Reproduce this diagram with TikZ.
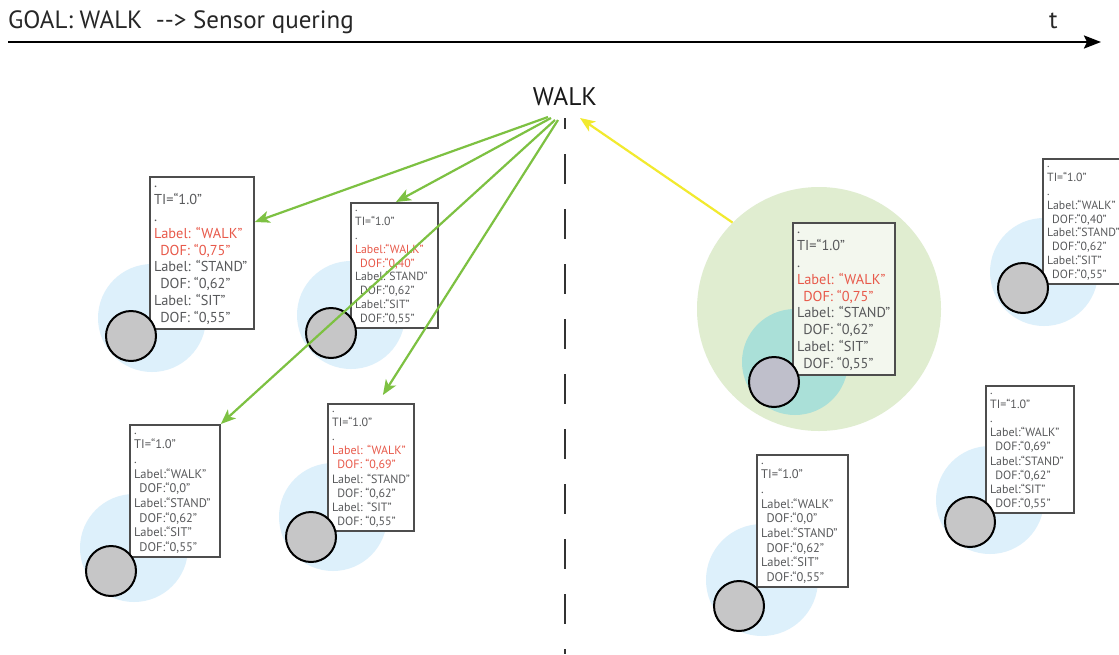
\documentclass[tikz,border=0pt]{standalone}
\usepackage{fontspec}
\setmainfont{PT Sans}
\usetikzlibrary{arrows.meta,calc}
\definecolor{boxline}{HTML}{4D4D4D}
\definecolor{txtgray}{HTML}{58595B}
\definecolor{txtred}{HTML}{E8594A}
\definecolor{lightblue}{HTML}{DDF0FB}
\definecolor{sensorgray}{HTML}{C6C6C7}
\definecolor{focusgray}{HTML}{BFBFCB}
\definecolor{focusgreen}{HTML}{E0EDD0}
\definecolor{focusteal}{HTML}{AAE0D8}
\definecolor{focusbox}{HTML}{F3F7EE}
\definecolor{arrowgreen}{HTML}{7DC142}
\definecolor{arrowyellow}{HTML}{F2EA2E}
\colorlet{boxfill}{white}
\newcommand\sensorbox[9]{%
  \node[boxst, minimum width=#4pt, minimum height=#5pt, anchor=north west] (#1) at (#2,#3) {};
  \pgfmathsetmacro\fs{#6*0.85}%
  \pgfmathsetmacro\bo{#6*0.68}%
  \pgfmathsetmacro\ind{#6*0.36}%
  \begin{scope}[every node/.append style={font=\fontsize{\fs pt}{\fs pt}\selectfont}]
  \node[txt] (#1-0) at ({#2+5},{#3+\bo}) {.};
  \node[txt] (#1-1) at ({#2+5},{#3+\bo+#6}) {TI=“1.0”};
  \node[txt] (#1-2) at ({#2+5},{#3+\bo+2*#6}) {.};
  \node[txt, text=#7] (#1-3) at ({#2+5},{#3+\bo+3*#6}) {Label:#9“WALK”};
  \node[txt, text=#7] (#1-4) at ({#2+5+\ind},{#3+\bo+4*#6}) {DOF:#9“#8”};
  \node[txt] (#1-5) at ({#2+5},{#3+\bo+5*#6}) {Label:#9“STAND”};
  \node[txt] (#1-6) at ({#2+5+\ind},{#3+\bo+6*#6}) {DOF:#9“0,62”};
  \node[txt] (#1-7) at ({#2+5},{#3+\bo+7*#6}) {Label:#9“SIT”};
  \node[txt] (#1-8) at ({#2+5+\ind},{#3+\bo+8*#6}) {DOF:#9“0,55”};
  \end{scope}}
\begin{document}
\begin{tikzpicture}[x=1pt,y=-1pt,
  boxst/.style={rectangle, draw=boxline, line width=1.8pt, fill=boxfill, inner sep=0pt},
  txt/.style={anchor=base west, inner sep=0pt, text=txtgray},
  blob/.style={circle, fill=lightblue, inner sep=0pt, minimum size=108pt},
  sensor/.style={circle, draw=black, line width=2pt, fill=sensorgray, inner sep=0pt, minimum size=50pt},
  garrow/.style={draw=arrowgreen, line width=2.2pt, -{Stealth[length=15pt,width=12pt,inset=4pt]}},
  yarrow/.style={draw=arrowyellow, line width=2.2pt, -{Stealth[length=15pt,width=12pt,inset=4pt]}},
  dashline/.style={draw=black!80, line width=2.4pt, dash pattern=on 30pt off 25pt, dash phase=19pt}]
\useasboundingbox (0,0) rectangle (1119,654);
\fill[white] (0,0) rectangle (1119,654);
% header
\node[anchor=base west, inner sep=0pt, font=\fontsize{25pt}{25pt}\selectfont, text=black!85] (title) at (8,28) {GOAL: WALK\ \ -{}-{}> Sensor quering};
\node[anchor=base west, inner sep=0pt, font=\fontsize{25pt}{25pt}\selectfont, text=black!85] (tlabel) at (1049,28) {t};
\coordinate (tl) at (8,42);
\coordinate (tr) at (1101,42);
\draw[line width=2.4pt, -{Stealth[length=17pt,width=13pt,inset=3pt]}] (tl) -- (tr);
% goal
\node[font=\fontsize{25.5pt}{25.5pt}\selectfont, text=black!90, inner sep=0pt] (walk) at (565,97) {WALK};
\coordinate (dtop) at (565,118);
\coordinate (dbot) at (565,654);
\draw[dashline] (dtop) -- (dbot);
% focus region
\node[circle, fill=focusgreen, inner sep=0pt, minimum size=244pt] (focus) at (819,309) {};
\node[circle, fill=focusteal, inner sep=0pt, minimum size=106pt] (teal) at (795,362) {};
% coverage blobs
\node[blob] (c1) at (152,318) {};
\node[blob] (c2) at (351,315) {};
\node[blob] (c3) at (134,548) {};
\node[blob] (c4) at (333,517) {};
\node[blob, minimum size=112pt] (c6) at (762,580) {};
\node[blob] (c7) at (990,500) {};
\node[blob] (c8) at (1044,272) {};
% boxes
\sensorbox{b1}{149}{176}{104}{152}{16.9}{txtred}{0,75}{ }
\sensorbox{b2}{350}{202}{87}{125}{13.9}{txtred}{0,40}{}
\sensorbox{b3}{129}{424}{90}{132}{14.7}{txtgray}{0,0}{}
\sensorbox{b4}{327}{403}{86}{127}{14.1}{txtred}{0,69}{ }
\begingroup
\colorlet{boxfill}{focusbox}
\sensorbox{b5}{792}{222}{102}{152}{16.9}{txtred}{0,75}{ }
\endgroup
\sensorbox{b6}{756}{454}{91}{132}{14.7}{txtgray}{0,0}{}
\sensorbox{b7}{985}{385}{88}{127}{14.1}{txtgray}{0,69}{}
\sensorbox{b8}{1042}{158}{90}{125}{13.9}{txtgray}{0,40}{}
% sensors
\node[sensor] (s1) at (131,336) {};
\node[sensor] (s2) at (331,333) {};
\node[sensor] (s3) at (111,571) {};
\node[sensor] (s4) at (311,537) {};
\node[sensor, fill=focusgray] (s5) at (774,382) {};
\node[sensor] (s6) at (739,606) {};
\node[sensor] (s7) at (970,522) {};
\node[sensor] (s8) at (1023,288) {};
% queries
\coordinate (q1) at (548,117);
\coordinate (q2) at (551,118);
\coordinate (q3) at (555,120);
\coordinate (q4) at (558,120);
\coordinate (answer) at (580,118);
\draw[garrow] (q1) -- ($(b1.north east)+(0,46)$);
\draw[garrow] (q2) -- ($(b2.north)+(1.5,0)$);
\draw[garrow] (q3) -- (b3.north east);
\draw[garrow] (q4) -- ($(b4.north)+(12,-8)$);
\draw[yarrow] (focus.135) -- (answer);
\end{tikzpicture}
\end{document}
